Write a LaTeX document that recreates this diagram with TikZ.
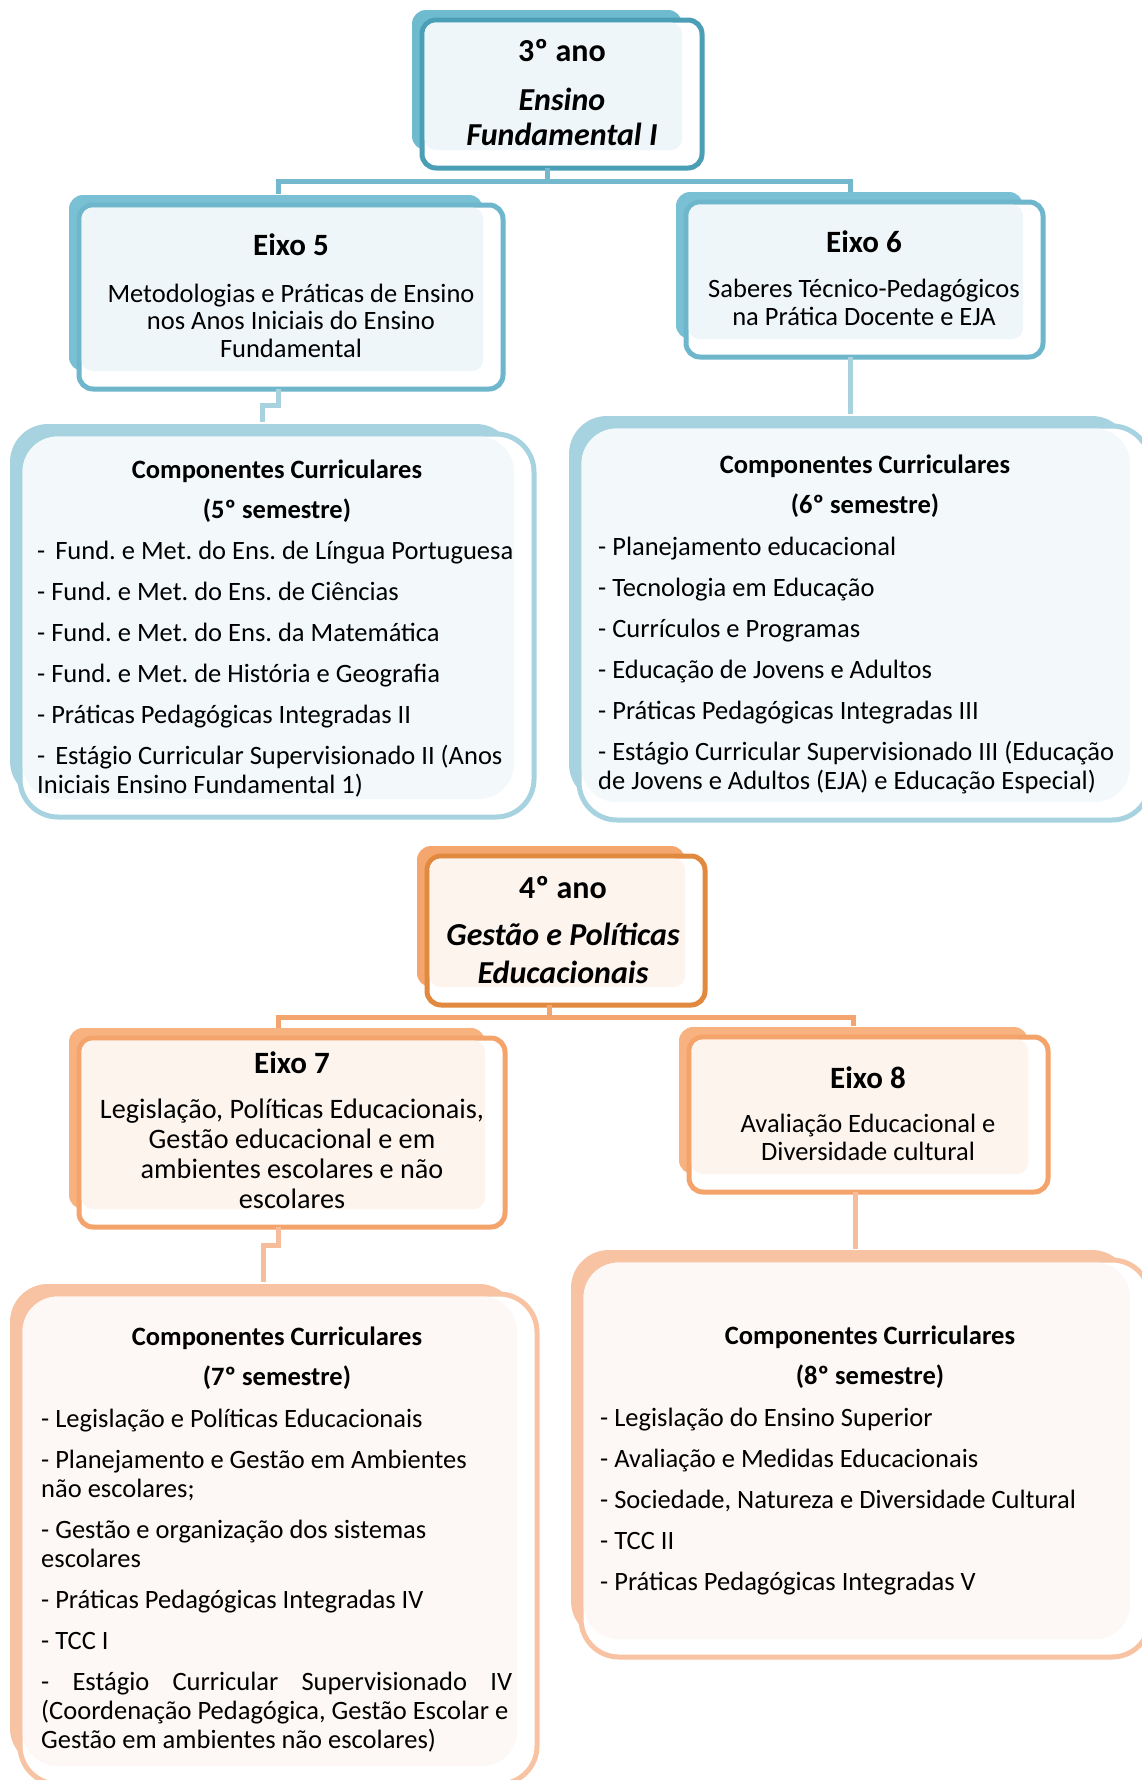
\documentclass[tikz,border=0pt]{standalone}
\usepackage{fontspec}
\setmainfont{Carlito}
\usetikzlibrary{fit}
\frenchspacing
\hyphenpenalty=10000
\exhyphenpenalty=10000
\newcommand\natsp{\spaceskip=\fontdimen2\font\xspaceskip=\fontdimen2\font\relax}
\definecolor{bTopB}{HTML}{4A9EB5}
\definecolor{bTopS}{HTML}{6EBBD0}
\definecolor{bEixB}{HTML}{6DB6CC}
\definecolor{bEixS}{HTML}{7AC0D4}
\definecolor{bFill}{HTML}{EEF6F9}
\definecolor{bCompB}{HTML}{A7D3E0}
\definecolor{bCompF}{HTML}{F3F9FB}
\definecolor{bLine}{HTML}{73B8CC}
\definecolor{bLineL}{HTML}{A8D2DE}
\definecolor{oTopB}{HTML}{E0893F}
\definecolor{oTopS}{HTML}{F4A66E}
\definecolor{oEixB}{HTML}{F4A36B}
\definecolor{oEixS}{HTML}{F8B27F}
\definecolor{oFill}{HTML}{FDF4EE}
\definecolor{oCompB}{HTML}{F8C3A2}
\definecolor{oCompF}{HTML}{FDF8F5}
\definecolor{oLine}{HTML}{F4A46E}
\definecolor{oLineL}{HTML}{F7BC9C}
\newcommand\cbox[9]{%
  \pgfmathsetmacro\cbr{#9-3}%
  \fill[#2, rounded corners=#9pt] (#5-10,#6-10) rectangle (#7-20,#8-18);
  \node[fit={(#5,#6)(#7,#8)}, inner sep=0pt, outer sep=0pt, rectangle, draw=#3, line width=5pt, fill=white, rounded corners=#9pt] (#1) {};
  \fill[#4, rounded corners=\cbr pt] (#5+2.5,#6+2.5) rectangle (#7-20,#8-18);
}
\tikzset{
  ttl/.style={font=\fontsize{32}{35}\selectfont\bfseries, inner sep=0pt},
  ttlit/.style={font=\fontsize{32}{#1}\selectfont\bfseries\itshape, inner sep=0pt, align=center, text width=320pt},
  eixo/.style={font=\fontsize{31}{34}\selectfont\bfseries, inner sep=0pt},
  ebody/.style={font=\fontsize{26.5}{#1}\selectfont, inner sep=0pt, align=center, text width=440pt},
  ctitle/.style={font=\fontsize{26.5}{29}\selectfont\bfseries, inner sep=0pt, align=center, text width=500pt},
  cbody/.style={font=\fontsize{26.5}{29}\selectfont, inner sep=0pt, align=left, text width=#1},
  conn/.style={line width=5pt, line cap=butt, line join=miter}
}
\begin{document}
\begin{tikzpicture}[x=1pt,y=-1pt]
\useasboundingbox (0,0) rectangle (1142,1780);
\clip (0,0) rectangle (1142,1780);
\fill[white] (0,0) rectangle (1142,1780);

% ---------- 3rd year (blue) ----------
\cbox{t3}{bTopS}{bTopB}{bFill}{422}{20}{702}{168}{14}
\cbox{e5}{bEixS}{bEixB}{bFill}{79}{205}{503}{389}{14}
\cbox{e6}{bEixS}{bEixB}{bFill}{686}{202}{1043}{357}{14}
\cbox{c5}{bCompB}{bCompB}{bCompF}{20}{434}{534}{817}{38}
\cbox{c6}{bCompB}{bCompB}{bCompF}{579}{426}{1150}{820}{38}

\coordinate (bj) at (547,181);
\coordinate (b5) at (278,194);
\coordinate (b6) at (850,192);
\draw[conn, bLine] (t3.south -| bj) -- (bj);
\draw[conn, bLine] (bj) -| (b5);
\draw[conn, bLine] (bj) -| (b6);
\coordinate (k5a) at (278,405);
\coordinate (k5) at (262,422);
\draw[conn, bLineL] (e5.south -| k5a) -- (k5a) -| (k5);
\coordinate (k6) at (850,414);
\draw[conn, bLineL] (e6.south -| k6) -- (k6);

\node[ttl, anchor=base] (t3a) at (562,61) {3º ano};
\node[ttlit=35, anchor=base] (t3b) at (562,110) {\natsp Ensino\\Fundamental I};

\node[eixo, anchor=base] (e5t) at (291,255) {Eixo 5};
\node[ebody=27.5, anchor=base] (e5b) at (291,302) {\natsp Metodologias e Práticas de Ensino\\nos Anos Iniciais do Ensino\\Fundamental};

\node[eixo, anchor=base] (e6t) at (864,252) {Eixo 6};
\node[ebody=28, anchor=base] (e6b) at (864,297) {\natsp Saberes Técnico-Pedagógicos\\na Prática Docente e EJA};

\node[ctitle, anchor=base] (c5t) at (277,478) {\natsp Componentes Curriculares\\[11pt](5º semestre)};
\node[cbody=600pt, anchor=base west] (c5b) at (37,559) {\natsp
-\hspace{4pt} Fund. e Met. do Ens. de Língua Portuguesa\\[12pt]
- Fund. e Met. do Ens. de Ciências\\[12pt]
- Fund. e Met. do Ens. da Matemática\\[12pt]
- Fund. e Met. de História e Geografia\\[12pt]
- Práticas Pedagógicas Integradas II\\[12pt]
-\hspace{4pt} Estágio Curricular Supervisionado II (Anos\\
Iniciais Ensino Fundamental 1)};

\node[ctitle, anchor=base] (c6t) at (865,473) {\natsp Componentes Curriculares\\[11pt](6º semestre)};
\node[cbody=600pt, anchor=base west] (c6b) at (598,555) {\natsp
- Planejamento educacional\\[12pt]
- Tecnologia em Educação\\[12pt]
- Currículos e Programas\\[12pt]
- Educação de Jovens e Adultos\\[12pt]
- Práticas Pedagógicas Integradas III\\[12pt]
- Estágio Curricular Supervisionado III (Educação\\
de Jovens e Adultos (EJA) e Educação Especial)};

% ---------- 4th year (orange) ----------
\cbox{t4}{oTopS}{oTopB}{oFill}{427}{856}{705}{1005}{14}
\cbox{e7}{oEixS}{oEixB}{oFill}{79}{1038}{505}{1227}{14}
\cbox{e8}{oEixS}{oEixB}{oFill}{689}{1037}{1048}{1192}{14}
\cbox{c7}{oCompB}{oCompB}{oCompF}{20}{1294}{537}{1784}{38}
\cbox{c8}{oCompB}{oCompB}{oCompF}{581}{1260}{1150}{1657}{38}

\coordinate (oj) at (549,1017);
\coordinate (o7) at (278,1028);
\coordinate (o8) at (853,1026);
\draw[conn, oLine] (t4.south -| oj) -- (oj);
\draw[conn, oLine] (oj) -| (o7);
\draw[conn, oLine] (oj) -| (o8);
\coordinate (k7a) at (278,1245);
\coordinate (k7) at (263,1282);
\draw[conn, oLineL] (e7.south -| k7a) -- (k7a) -| (k7);
\coordinate (k8) at (855,1249);
\draw[conn, oLineL] (e8.south -| k8) -- (k8);

\node[ttl, anchor=base] (t4a) at (563,898) {4º ano};
\node[ttlit=38, anchor=base] (t4b) at (563,945) {\natsp Gestão e Políticas\\Educacionais};

\node[eixo, anchor=base] (e7t) at (292,1073) {Eixo 7};
\node[ebody=30, anchor=base, font=\fontsize{28.2}{30}\selectfont] (e7b) at (292,1118) {\natsp Legislação, Políticas Educacionais,\\Gestão educacional e em\\ambientes escolares e não\\escolares};

\node[eixo, anchor=base] (e8t) at (868,1088) {Eixo 8};
\node[ebody=28, anchor=base] (e8b) at (868,1132) {\natsp Avaliação Educacional e\\Diversidade cultural};

\node[ctitle, anchor=base] (c7t) at (277,1345) {\natsp Componentes Curriculares\\[11pt](7º semestre)};
\node[cbody=600pt, anchor=base west] (c7b) at (41,1427) {\natsp
- Legislação e Políticas Educacionais\\[12pt]
- Planejamento e Gestão em Ambientes\\
não escolares;\\[12pt]
- Gestão e organização dos sistemas\\
escolares\\[12pt]
- Práticas Pedagógicas Integradas IV\\[12pt]
- TCC I\\[12pt]
\makebox[471pt][l]{-\hfill Estágio\hfill Curricular\hfill Supervisionado\hfill IV}\\
(Coordenação Pedagógica, Gestão Escolar e\\
Gestão em ambientes não escolares)};

\node[ctitle, anchor=base] (c8t) at (870,1344) {\natsp Componentes Curriculares\\[11pt](8º semestre)};
\node[cbody=600pt, anchor=base west] (c8b) at (600,1426) {\natsp
- Legislação do Ensino Superior\\[12pt]
- Avaliação e Medidas Educacionais\\[12pt]
- Sociedade, Natureza e Diversidade Cultural\\[12pt]
- TCC II\\[12pt]
- Práticas Pedagógicas Integradas V};
\end{tikzpicture}
\end{document}
